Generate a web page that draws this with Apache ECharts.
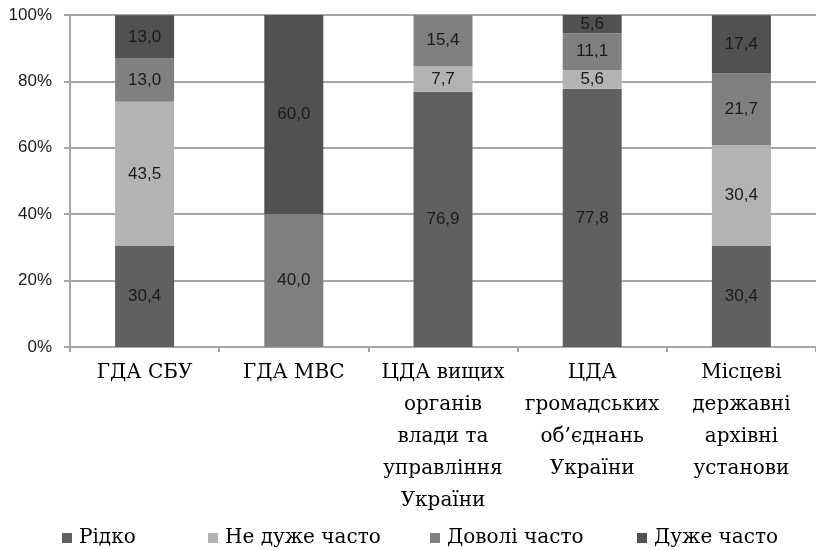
<!DOCTYPE html>
<html>
<head>
<meta charset="utf-8">
<script src="https://cdn.jsdelivr.net/npm/echarts@6/dist/echarts.min.js"></script>
<style>
  html, body { margin: 0; padding: 0; background: #fff; }
  #chart { width: 816px; height: 551px; }
</style>
</head>
<body>
<div id="chart"></div>
<script>
const categories = [
  "ГДА СБУ",
  "ГДА МВС",
  "ЦДА вищих\nорганів\nвлади та\nуправління\nУкраїни",
  "ЦДА\nгромадських\nоб’єднань\nУкраїни",
  "Місцеві\nдержавні\nархівні\nустанови"
];
const seriesNames = ["Рідко", "Не дуже часто", "Доволі часто", "Дуже часто"];
const ridko = [30.4, 0, 76.9, 77.8, 30.4];
const neDuzhe = [43.5, 0, 7.7, 5.6, 30.4];
const dovoli = [13.0, 40.0, 15.4, 11.1, 21.7];
const duzhe = [13.0, 60.0, 0, 5.6, 17.4];
const yTicks = [0, 20, 40, 60, 80, 100];

const colors = ["#5f605f", "#b3b3b3", "#808080", "#515151"];
const legendLeft = [62, 208, 430, 637];
const serif = "'DejaVu Serif', serif";
const sans = "'Liberation Sans', Arial, sans-serif";

const chart = echarts.init(document.getElementById("chart"));

const makeSeries = (name, data, i) => ({
  name: name,
  type: "bar",
  stack: "total",
  data: data,
  barWidth: 59,
  itemStyle: { color: colors[i] },
  label: {
    show: true,
    position: "inside",
    color: "#1a1a1a",
    fontFamily: sans,
    fontSize: 17,
    formatter: (p) => (p.value ? p.value.toFixed(1).replace(".", ",") : "")
  }
});

chart.setOption({
  animation: false,
  color: colors,
  grid: { left: 70, right: -4, top: 15, bottom: 204, containLabel: false },
  legend: seriesNames.map((name, i) => ({
    data: [name],
    left: legendLeft[i],
    top: 528,
    padding: 0,
    icon: "rect",
    itemWidth: 10,
    itemHeight: 10,
    selectedMode: false,
    textStyle: { fontFamily: serif, fontSize: 20, color: "#000", padding: [0, 0, 0, 2] }
  })),
  xAxis: {
    type: "category",
    data: categories,
    axisLine: { show: true, lineStyle: { color: "#a6a6a6", width: 2 } },
    axisTick: { show: true, length: 5, lineStyle: { color: "#a6a6a6", width: 2 } },
    axisLabel: {
      interval: 0,
      margin: 10,
      fontFamily: serif,
      fontSize: 20,
      lineHeight: 32,
      color: "#000"
    }
  },
  yAxis: {
    type: "value",
    min: yTicks[0],
    max: yTicks[yTicks.length - 1],
    interval: 20,
    axisLine: { show: true, lineStyle: { color: "#a6a6a6", width: 2 } },
    axisTick: { show: true, length: 6, lineStyle: { color: "#a6a6a6", width: 2 } },
    splitLine: { show: true, lineStyle: { color: "#a6a6a6", width: 2 } },
    axisLabel: {
      margin: 18,
      fontFamily: sans,
      fontSize: 17,
      color: "#1a1a1a",
      formatter: "{value}%"
    }
  },
  series: [
    makeSeries(seriesNames[0], ridko, 0),
    makeSeries(seriesNames[1], neDuzhe, 1),
    makeSeries(seriesNames[2], dovoli, 2),
    makeSeries(seriesNames[3], duzhe, 3)
  ]
});
</script>
</body>
</html>
